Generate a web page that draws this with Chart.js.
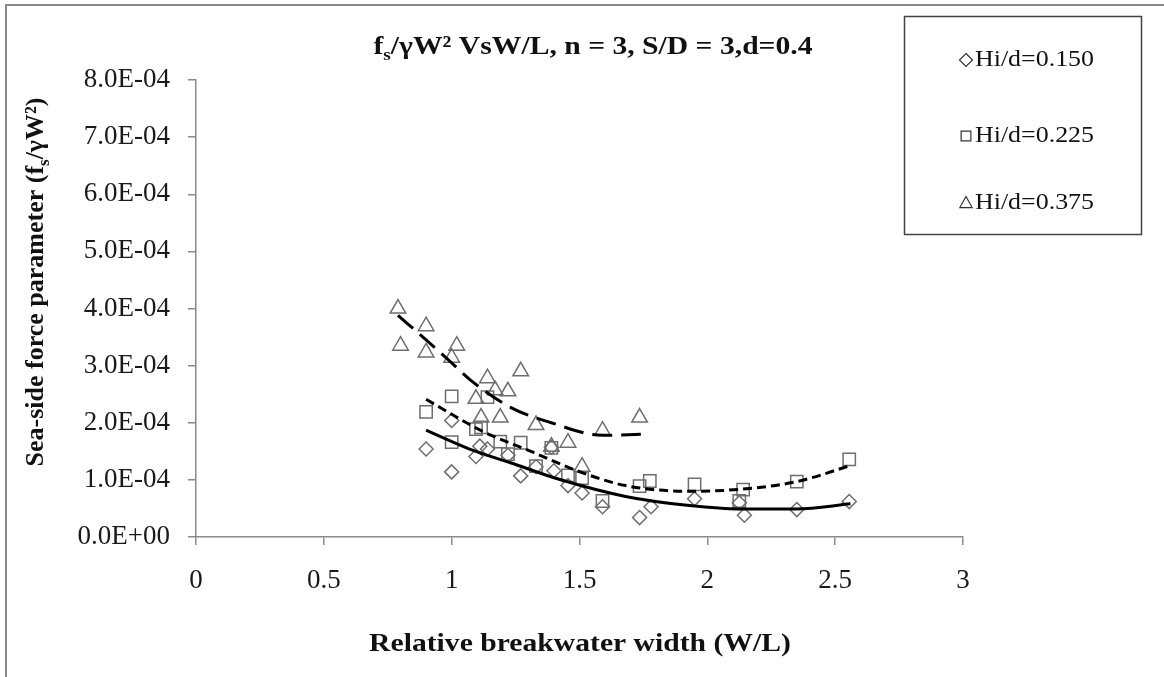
<!DOCTYPE html>
<html>
<head>
<meta charset="utf-8">
<script src="https://cdn.jsdelivr.net/npm/chart.js@4.4.0/dist/chart.umd.min.js"></script>
<style>
  html, body { margin: 0; padding: 0; background: #fff; }
</style>
</head>
<body>
<canvas id="graphique-force" width="1164" height="677"></canvas>
<script>
// axes
const xTicks = [0, 0.5, 1, 1.5, 2, 2.5, 3];
const xTickLabels = ["0", "0.5", "1", "1.5", "2", "2.5", "3"];
const yTicks = [0, 1, 2, 3, 4, 5, 6, 7, 8]; // x 1E-04
const yTickLabels = ["0.0E+00", "1.0E-04", "2.0E-04", "3.0E-04", "4.0E-04", "5.0E-04", "6.0E-04", "7.0E-04", "8.0E-04"];

const seriesNames = ["Hi/d=0.150", "Hi/d=0.225", "Hi/d=0.375"];

// Hi/d = 0.150 (diamonds), fs/γW² in units of 1E-04
const wl150 = [0.90, 1.00, 1.00, 1.095, 1.11, 1.14, 1.22, 1.27, 1.33, 1.39, 1.40, 1.455, 1.51, 1.59, 1.735, 1.78, 1.95, 2.125, 2.145, 2.35, 2.555];
const fs150 = [1.54, 1.14, 2.04, 1.41, 1.59, 1.54, 1.43, 1.07, 1.23, 1.57, 1.16, 0.90, 0.77, 0.53, 0.34, 0.53, 0.67, 0.60, 0.38, 0.48, 0.62];

// Hi/d = 0.225 (squares)
const wl225 = [0.90, 1.00, 1.00, 1.095, 1.115, 1.14, 1.19, 1.22, 1.27, 1.33, 1.39, 1.455, 1.51, 1.59, 1.735, 1.775, 1.95, 2.125, 2.14, 2.35, 2.555];
const fs225 = [2.19, 2.46, 1.66, 1.89, 1.92, 2.45, 1.67, 1.45, 1.65, 1.24, 1.56, 1.08, 1.03, 0.63, 0.89, 0.98, 0.92, 0.63, 0.83, 0.97, 1.36];

// Hi/d = 0.375 (triangles)
const wl375 = [0.79, 0.80, 0.90, 0.90, 1.00, 1.02, 1.095, 1.115, 1.14, 1.17, 1.22, 1.19, 1.27, 1.33, 1.39, 1.455, 1.51, 1.59, 1.735];
const fs375 = [4.00, 3.35, 3.69, 3.23, 3.14, 3.35, 2.42, 2.09, 2.78, 2.57, 2.55, 2.09, 2.90, 1.96, 1.58, 1.65, 1.23, 1.86, 2.09];

// trend lines
const trendWl150 = [0.90, 1.07, 1.23, 1.42, 1.68, 1.93, 2.13, 2.35, 2.56];
const trendFs150 = [1.87, 1.54, 1.30, 1.01, 0.71, 0.55, 0.49, 0.49, 0.58];
const trendWl225 = [0.90, 1.07, 1.13, 1.32, 1.49, 1.68, 1.94, 2.14, 2.35, 2.56];
const trendFs225 = [2.41, 1.97, 1.83, 1.48, 1.16, 0.90, 0.80, 0.84, 0.97, 1.25];
const trendWl375 = [0.79, 0.90, 1.00, 1.07, 1.23, 1.39, 1.59, 1.74];
const trendFs375 = [3.88, 3.45, 3.05, 2.76, 2.27, 2.00, 1.78, 1.80];

function points(xs, ys) {
    return xs.map((x, i) => ({ x: x, y: ys[i] * 1e-4 }));
}

const gris = "#6e6e6e";

function nuage(label, xs, ys, style, rayon) {
    return {
        label: label,
        data: points(xs, ys),
        pointStyle: style,
        pointRadius: rayon,
        pointBorderColor: gris,
        pointBackgroundColor: "rgba(255,255,255,0)",
        pointBorderWidth: 1.5,
        showLine: false,
        order: 1
    };
}

function tendance(xs, ys, dash) {
    return {
        label: "",
        data: points(xs, ys),
        showLine: true,
        borderColor: "#000",
        borderWidth: 3,
        borderDash: dash,
        cubicInterpolationMode: "monotone",
        pointRadius: 0,
        fill: false,
        order: 0
    };
}

const datasets = [
    nuage(seriesNames[0], wl150, fs150, "rectRot", 7),
    nuage(seriesNames[1], wl225, fs225, "rect", 8.7),
    nuage(seriesNames[2], wl375, fs375, "triangle", 9),
    tendance(trendWl150, trendFs150, []),
    tendance(trendWl225, trendFs225, [9, 5]),
    tendance(trendWl375, trendFs375, [20, 9])
];

// text with subscript parts
function texteRiche(ctx, parts, taille, gras, sx) {
    let total = 0;
    for (const p of parts) {
        ctx.font = (gras ? "bold " : "") + (p.sub ? taille * 0.65 : taille) + "px 'Liberation Serif'";
        p.w = ctx.measureText(p.t).width;
        total += p.w;
    }
    ctx.save();
    ctx.scale(sx, 1);
    let x = -total / 2;
    for (const p of parts) {
        ctx.font = (gras ? "bold " : "") + (p.sub ? taille * 0.65 : taille) + "px 'Liberation Serif'";
        ctx.fillText(p.t, x, p.sub ? taille * 0.22 : 0);
        x += p.w;
    }
    ctx.restore();
}

function symbole(ctx, style, x, y, r) {
    ctx.beginPath();
    if (style === "rectRot") {
        ctx.moveTo(x, y - r); ctx.lineTo(x + r, y); ctx.lineTo(x, y + r); ctx.lineTo(x - r, y);
    } else if (style === "rect") {
        ctx.rect(x - r * 0.75, y - r * 0.75, r * 1.5, r * 1.5);
    } else {
        ctx.moveTo(x, y - r); ctx.lineTo(x + r * 0.95, y + r * 0.7); ctx.lineTo(x - r * 0.95, y + r * 0.7);
    }
    ctx.closePath();
    ctx.stroke();
}

const cadre = {
    id: "cadre",
    beforeDraw(chart) {
        const ctx = chart.ctx;
        ctx.save();
        ctx.fillStyle = "#fff";
        ctx.fillRect(0, 0, chart.width, chart.height);
        ctx.strokeStyle = "#8a8a8a";
        ctx.lineWidth = 2;
        ctx.strokeRect(6, 5, 1200, 700);
        ctx.restore();
    },
    afterDraw(chart) {
        const ctx = chart.ctx;
        ctx.save();
        ctx.fillStyle = "#111";
        ctx.textBaseline = "alphabetic";

        // title
        ctx.save();
        ctx.translate(593, 54);
        texteRiche(ctx, [{ t: "f" }, { t: "s", sub: true }, { t: "/\u03B3W\u00B2 VsW/L, n = 3, S/D = 3,d=0.4" }], 26, true, 1.14);
        ctx.restore();

        // x title
        ctx.save();
        ctx.translate(580, 651);
        texteRiche(ctx, [{ t: "Relative breakwater width (W/L)" }], 26, true, 1.14);
        ctx.restore();

        // y title
        ctx.save();
        ctx.translate(43, 282);
        ctx.rotate(-Math.PI / 2);
        texteRiche(ctx, [{ t: "Sea-side force parameter (f" }, { t: "s", sub: true }, { t: "/\u03B3W\u00B2)" }], 26, true, 1);
        ctx.restore();

        // legend
        ctx.strokeStyle = "#444";
        ctx.lineWidth = 1.5;
        ctx.strokeRect(904.5, 16.5, 237, 218);
        const styles = ["rectRot", "rect", "triangle"];
        const lignes = [59, 135, 202];
        ctx.font = "24px 'Liberation Serif'";
        ctx.textBaseline = "middle";
        ctx.textAlign = "left";
        for (let i = 0; i < seriesNames.length; i++) {
            ctx.strokeStyle = "#333";
            ctx.lineWidth = 1.2;
            symbole(ctx, styles[i], 966, lignes[i] + 1, 6.5);
            ctx.fillStyle = "#111";
            ctx.save();
            ctx.translate(975, lignes[i] + 1);
            ctx.scale(1.08, 1);
            ctx.fillText(seriesNames[i], 0, 0);
            ctx.restore();
        }
        ctx.restore();
    }
};

const config = {
    type: "scatter",
    data: { datasets: datasets },
    options: {
        responsive: false,
        animation: false,
        layout: { padding: { left: 0, top: 80, right: 201, bottom: 0 } },
        plugins: {
            legend: { display: false },
            tooltip: { enabled: false }
        },
        scales: {
            x: {
                type: "linear",
                min: 0,
                max: 3,
                afterBuildTicks: s => { s.ticks = xTicks.map(v => ({ value: v })); },
                afterFit: s => { s.height = 140; },
                ticks: {
                    callback: (v, i) => xTickLabels[i],
                    font: { family: "Liberation Serif", size: 27 },
                    color: "#1a1a1a",
                    padding: 20,
                    maxRotation: 0,
                    autoSkip: false
                },
                grid: { drawOnChartArea: false, tickLength: 8, color: "#8a8a8a", lineWidth: 1.5 },
                border: { color: "#8a8a8a", width: 1.5 }
            },
            y: {
                type: "linear",
                min: 0,
                max: 8e-4,
                afterBuildTicks: s => { s.ticks = yTicks.map(v => ({ value: v * 1e-4 })); },
                afterFit: s => { s.width = 196; },
                ticks: {
                    callback: (v, i) => yTickLabels[i],
                    font: { family: "Liberation Serif", size: 27 },
                    color: "#1a1a1a",
                    padding: 18,
                    autoSkip: false
                },
                grid: { drawOnChartArea: false, tickLength: 8, color: "#8a8a8a", lineWidth: 1.5 },
                border: { color: "#8a8a8a", width: 1.5 }
            }
        }
    },
    plugins: [cadre]
};

const graphique = new Chart(document.querySelector("#graphique-force"), config);
</script>
</body>
</html>
